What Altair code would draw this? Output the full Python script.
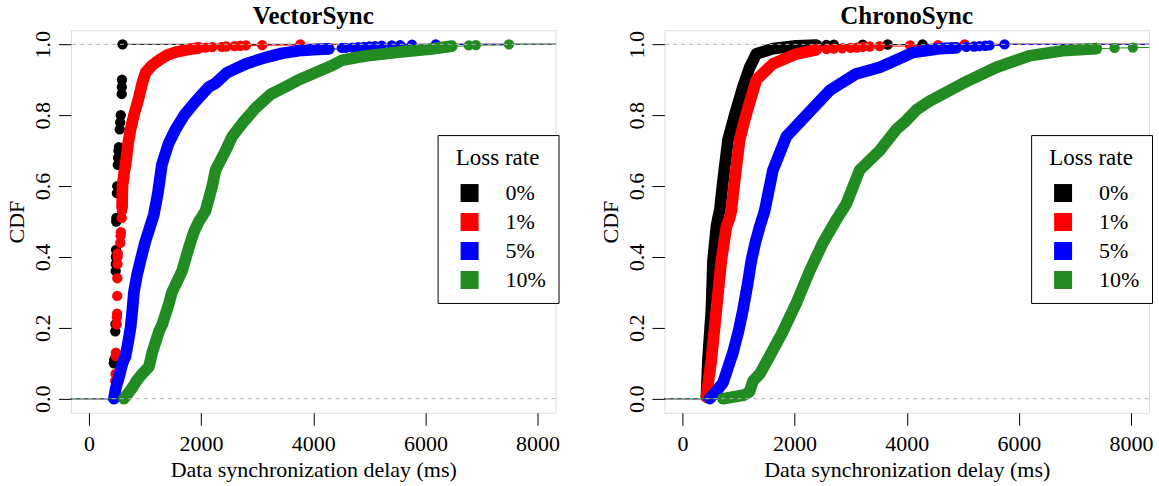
import altair as alt
import pandas as pd

FONT = "Liberation Serif"
SERIES = ["0%", "1%", "5%", "10%"]
COLORS = ["#000000", "#ff0000", "#0000ff", "#228b22"]
XLIM = [-320, 8320]
YLIM = [-0.04, 1.04]
XTICKS = [0, 2000, 4000, 6000, 8000]
YTICKS = [0.0, 0.2, 0.4, 0.6, 0.8, 1.0]
REF_LINES = [0, 1]
PANEL_TITLES = ["VectorSync", "ChronoSync"]

# ---------------- VectorSync ----------------
VS_0_BAND_MS = []
VS_0_BAND_CDF = []
VS_0_DOT_MS = [446, 452, 470, 475, 478, 480, 482, 485, 488, 490, 500, 505, 515, 520, 528, 535, 550, 558, 568, 585, 588, 590, 600]
VS_0_DOT_CDF = [0.10, 0.11, 0.19, 0.21, 0.36, 0.38, 0.40, 0.42, 0.50, 0.51, 0.58, 0.60, 0.66, 0.68, 0.70, 0.71, 0.76, 0.78, 0.80, 0.86, 0.88, 0.90, 1.0]

VS_1_BAND_MS = [592, 596, 600, 630, 654, 700, 743, 802, 891, 950, 1010, 1120, 1248, 1400, 1545, 1750, 1960]
VS_1_BAND_CDF = [0.54, 0.58, 0.60, 0.64, 0.66, 0.72, 0.76, 0.80, 0.85, 0.89, 0.92, 0.94, 0.955, 0.97, 0.978, 0.985, 0.99]
VS_1_DOT_MS = [470, 475, 478, 482, 495, 500, 503, 505, 507, 510, 512, 515, 560, 565, 570, 585, 590,
               2080, 2200, 2370, 2450, 2600, 2700, 2800, 3090, 3770]
VS_1_DOT_CDF = [0.05, 0.07, 0.12, 0.13, 0.21, 0.23, 0.24, 0.29, 0.34, 0.38, 0.40, 0.41, 0.44, 0.46, 0.47, 0.51, 0.53,
                0.991, 0.992, 0.993, 0.994, 0.995, 0.996, 0.997, 0.998, 1.0]

VS_5_BAND_MS = [446, 480, 535, 600, 654, 700, 743, 775, 802, 860, 921, 1000, 1070, 1159, 1230, 1301, 1420, 1545, 1700,
                1880, 2139, 2258, 2460, 2800, 3150, 3450, 3743, 4000, 4278]
VS_5_BAND_CDF = [0.0, 0.03, 0.06, 0.10, 0.12, 0.16, 0.20, 0.25, 0.30, 0.35, 0.39, 0.44, 0.475, 0.52, 0.58, 0.66, 0.72, 0.76, 0.80,
                 0.835, 0.88, 0.89, 0.92, 0.945, 0.963, 0.975, 0.982, 0.985, 0.987]
VS_5_DOT_MS = [4510, 4580, 4700, 4800, 4900, 5000, 5100, 5220, 5400, 5550, 5760, 6185]
VS_5_DOT_CDF = [0.99, 0.99, 0.991, 0.992, 0.993, 0.994, 0.995, 0.996, 0.997, 0.998, 0.999, 1.0]

VS_10_BAND_MS = [624, 700, 770, 850, 950, 1070, 1130, 1250, 1310, 1430, 1480, 1600, 1660, 1780, 1870, 1960, 2080, 2200,
                 2258, 2437, 2555, 2750, 2970, 3250, 3505, 3740, 4040, 4330, 4510, 4930, 5525, 6115, 6470]
VS_10_BAND_CDF = [0.0, 0.015, 0.03, 0.05, 0.07, 0.09, 0.13, 0.19, 0.21, 0.27, 0.30, 0.34, 0.36, 0.425, 0.47, 0.50, 0.53, 0.60,
                  0.645, 0.70, 0.74, 0.78, 0.82, 0.86, 0.88, 0.90, 0.92, 0.94, 0.955, 0.967, 0.978, 0.987, 0.995]
VS_10_DOT_MS = [6775, 6900, 7490]
VS_10_DOT_CDF = [0.997, 0.998, 1.0]

# ---------------- ChronoSync ----------------
CS_0_BAND_MS = [428, 456, 517, 546, 606, 635, 665, 724, 813, 932, 1080, 1200, 1319, 1615, 2032, 2389]
CS_0_BAND_CDF = [0.005, 0.11, 0.25, 0.39, 0.485, 0.51, 0.53, 0.615, 0.73, 0.80, 0.88, 0.935, 0.973, 0.988, 0.996, 0.998]
CS_0_DOT_MS = [2567, 2700, 3216, 3660, 4283]
CS_0_DOT_CDF = [0.9985, 0.999, 0.9993, 0.9996, 1.0]

CS_1_BAND_MS = [428, 517, 606, 695, 784, 843, 873, 932, 1021, 1100, 1170, 1319, 1615, 2032, 2389]
CS_1_BAND_CDF = [0.005, 0.11, 0.25, 0.39, 0.485, 0.51, 0.53, 0.615, 0.73, 0.78, 0.82, 0.90, 0.945, 0.973, 0.985]
CS_1_DOT_MS = [2570, 2700, 2850, 3000, 3110, 3216, 3340, 3517, 4060, 4557, 5032]
CS_1_DOT_CDF = [0.987, 0.988, 0.989, 0.99, 0.991, 0.993, 0.994, 0.995, 0.997, 0.998, 1.0]

CS_5_BAND_MS = [487, 600, 724, 902, 1000, 1080, 1160, 1230, 1300, 1378, 1467, 1615, 1854, 2210, 2626, 3100, 3517, 3800,
                4111, 4587, 4884]
CS_5_BAND_CDF = [0.0, 0.02, 0.045, 0.13, 0.19, 0.25, 0.32, 0.39, 0.44, 0.485, 0.53, 0.645, 0.74, 0.80, 0.87, 0.917, 0.935, 0.955,
                 0.977, 0.988, 0.99]
CS_5_DOT_MS = [5062, 5200, 5300, 5400, 5478, 5745]
CS_5_DOT_CDF = [0.993, 0.994, 0.995, 0.996, 0.997, 1.0]

CS_10_BAND_MS = [724, 900, 1100, 1200, 1259, 1380, 1556, 1794, 2032, 2269, 2507, 2745, 2923, 3160, 3517, 3815, 3993, 4171,
                 4408, 5002, 5597, 6191, 6779, 7380]
CS_10_BAND_CDF = [0.0, 0.005, 0.01, 0.02, 0.05, 0.07, 0.12, 0.19, 0.27, 0.36, 0.44, 0.505, 0.55, 0.645, 0.70, 0.76, 0.785, 0.815,
                  0.84, 0.89, 0.935, 0.968, 0.982, 0.988]
CS_10_DOT_MS = [7706, 8032]
CS_10_DOT_CDF = [0.99, 0.991]

PANELS = [
    {
        "0%": (VS_0_BAND_MS, VS_0_BAND_CDF, VS_0_DOT_MS, VS_0_DOT_CDF),
        "1%": (VS_1_BAND_MS, VS_1_BAND_CDF, VS_1_DOT_MS, VS_1_DOT_CDF),
        "5%": (VS_5_BAND_MS, VS_5_BAND_CDF, VS_5_DOT_MS, VS_5_DOT_CDF),
        "10%": (VS_10_BAND_MS, VS_10_BAND_CDF, VS_10_DOT_MS, VS_10_DOT_CDF),
    },
    {
        "0%": (CS_0_BAND_MS, CS_0_BAND_CDF, CS_0_DOT_MS, CS_0_DOT_CDF),
        "1%": (CS_1_BAND_MS, CS_1_BAND_CDF, CS_1_DOT_MS, CS_1_DOT_CDF),
        "5%": (CS_5_BAND_MS, CS_5_BAND_CDF, CS_5_DOT_MS, CS_5_DOT_CDF),
        "10%": (CS_10_BAND_MS, CS_10_BAND_CDF, CS_10_DOT_MS, CS_10_DOT_CDF),
    },
]

W, H = 485, 383

xscale = alt.Scale(domain=XLIM, nice=False, zero=False)
yscale = alt.Scale(domain=YLIM, nice=False, zero=False)

xaxis = alt.Axis(values=XTICKS, format="d", title="Data synchronization delay (ms)", grid=False, domain=False,
                 tickSize=12.5, tickColor="black", tickWidth=1, labelFont=FONT, labelFontSize=22,
                 labelColor="black", labelPadding=8, labelFlush=False, labelOverlap=False,
                 titleFont=FONT, titleFontSize=22, titleFontWeight="normal", titleColor="black",
                 titleX=W / 2, titleY=57, titleBaseline="middle", titleAlign="center")
yaxis = alt.Axis(values=YTICKS, format=".1f", title="CDF", grid=False, domain=False,
                 tickSize=12.5, tickColor="black", tickWidth=1, labelFont=FONT, labelFontSize=22,
                 labelColor="black", labelPadding=8.5, labelAngle=270, labelAlign="center",
                 labelBaseline="alphabetic", labelFlush=False, labelOverlap=False,
                 titleFont=FONT, titleFontSize=22, titleFontWeight="normal", titleColor="black",
                 titleX=-54, titleY=H / 2, titleAngle=270, titleBaseline="middle", titleAlign="center")

legend = alt.Legend(title="Loss rate", orient="none", legendX=367, legendY=105, direction="vertical",
                    symbolType="square", symbolSize=324, symbolStrokeWidth=0, symbolOffset=9,
                    labelOffset=25, labelFont=FONT, labelFontSize=22, labelColor="black",
                    titleFont=FONT, titleFontSize=23, titleFontWeight="normal", titleColor="black",
                    titleAnchor="middle", titlePadding=12, padding=12, rowPadding=7,
                    strokeColor="black", fillColor="white", cornerRadius=0)

color = alt.Color("series:N", scale=alt.Scale(domain=SERIES, range=COLORS), legend=legend)


def enc(ch):
    return ch.encode(
        x=alt.X("ms:Q", scale=xscale, axis=xaxis),
        y=alt.Y("cdf:Q", scale=yscale, axis=yaxis),
        color=color,
    )


def panel(idx):
    data = PANELS[idx]
    layers = []
    for s in SERIES:
        bms, bcdf, dms, dcdf = data[s]
        pts = sorted([(m, c, True) for m, c in zip(bms, bcdf)] + [(m, c, False) for m, c in zip(dms, dcdf)])
        # horizontal ECDF step segments (no verticals), extended to the plot edges;
        # inside the dense band they are hidden, so they are only drawn around the loose points
        xs, x2s, ys = [XLIM[0]], [pts[0][0]], [0.0]
        for i, (m, c, is_band) in enumerate(pts):
            nxt = pts[i + 1] if i + 1 < len(pts) else None
            if nxt is None:
                xs.append(m); x2s.append(XLIM[1]); ys.append(c)
            elif not (is_band and nxt[2]):
                xs.append(m); x2s.append(nxt[0]); ys.append(c)
        steps = pd.DataFrame({"ms": xs, "ms2": x2s, "cdf": ys, "series": s})
        layers.append(
            alt.Chart(steps).mark_rule(strokeWidth=1).encode(
                x=alt.X("ms:Q", scale=xscale, axis=xaxis),
                x2="ms2:Q",
                y=alt.Y("cdf:Q", scale=yscale, axis=yaxis),
                color=color,
            )
        )
        if bms:
            band = pd.DataFrame({"ms": bms, "cdf": bcdf, "series": s})
            layers.append(enc(alt.Chart(band).mark_line(strokeWidth=11.7, strokeCap="round",
                                                       strokeJoin="round", clip=True)))
        allp = pd.DataFrame({"ms": [p[0] for p in pts], "cdf": [p[1] for p in pts], "series": s})
        layers.append(enc(alt.Chart(allp).mark_circle(size=107, opacity=1, clip=True)))
    refs = pd.DataFrame({"cdf": REF_LINES})
    layers.append(
        alt.Chart(refs).mark_rule(color="#b3b3b3", strokeWidth=1, strokeDash=[4, 4]).encode(
            y=alt.Y("cdf:Q", scale=yscale, axis=yaxis)
        )
    )
    return alt.layer(*layers).properties(
        width=W, height=H,
        title=alt.TitleParams(PANEL_TITLES[idx], font=FONT, fontSize=25, fontWeight="bold", color="black",
                              anchor="middle", offset=-19, baseline="alphabetic"),
    )


chart = alt.hconcat(panel(0), panel(1), spacing=109, bounds="flush").resolve_scale(
    color="independent", x="independent", y="independent"
).resolve_legend(color="independent").configure_view(
    stroke="black", strokeWidth=1
).configure(background="white", padding={"left": 5, "top": 3, "right": 5, "bottom": 5})

chart.save("out.html", embed_options={"renderer": "svg", "actions": False})
